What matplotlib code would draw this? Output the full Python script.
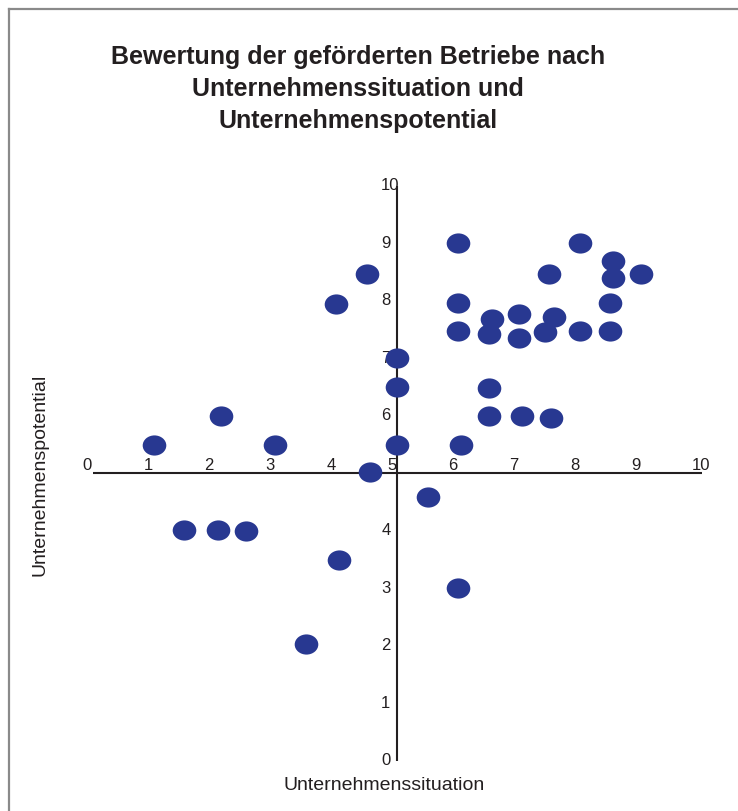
import numpy as np
import matplotlib
matplotlib.use('Agg')
from matplotlib import pyplot as plt
from matplotlib.path import Path
from matplotlib.transforms import Affine2D, offset_copy

plt.rcParams['font.family'] = ['Liberation Sans', 'DejaVu Sans']

# Bewertung je Betrieb (Unternehmenssituation, Unternehmenspotential)
situation = [1.0, 3.0, 2.1, 4.0, 4.5, 4.55, 5.0, 5.0, 5.0,
             6.0, 6.0, 6.0, 6.05, 5.5, 6.0,
             6.55, 6.5, 6.5, 6.5,
             7.0, 7.0, 7.05,
             7.42, 7.57, 7.5, 7.52,
             8.0, 8.0,
             8.55, 8.55, 8.5, 8.5,
             9.0,
             1.5, 2.05, 2.52, 4.05, 3.5]
potential = [5.5, 5.5, 6.0, 7.95, 8.47, 5.02, 7.0, 6.5, 5.5,
             9.0, 7.97, 7.48, 5.5, 4.58, 3.0,
             7.68, 7.43, 6.48, 6.0,
             7.77, 7.36, 6.0,
             7.45, 7.72, 8.47, 5.96,
             9.0, 7.47,
             8.7, 8.4, 7.97, 7.47,
             8.47,
             4.02, 4.02, 4.0, 3.5, 2.03]

ticks = list(range(0, 11))
titel = "Bewertung der geförderten Betriebe nach\nUnternehmenssituation und\nUnternehmenspotential"

fig = plt.figure(figsize=(7.38, 8.11), dpi=100)
W, H = 738, 811

# Rahmen links und oben
fig.add_artist(plt.Line2D([8.5 / W, 8.5 / W], [0, (H - 9) / H], color='#8a8a8a', lw=1.6))
fig.add_artist(plt.Line2D([8.5 / W, 1], [(H - 9) / H, (H - 9) / H], color='#8a8a8a', lw=1.6))

ax = fig.add_axes([92.7 / W, (H - 760.8) / H, 609 / W, 575 / H])
ax.set_xlim(0, 10)
ax.set_ylim(0, 10)
ax.axis('off')

ax.plot([0, 10], [5, 5], color='#231f20', lw=1.5, zorder=1)
ax.plot([5, 5], [0, 10], color='#231f20', lw=1.5, zorder=1)

# ovale Marker
ellipse = Path.unit_circle().transformed(Affine2D().scale(1.17, 1.0))
ax.plot(situation, potential, linestyle='none', marker=ellipse,
        markersize=17, color='#283891', markeredgewidth=0, zorder=3)

# Achsenbeschriftung
tr_x = offset_copy(ax.transData, fig=fig, x=-10, y=8, units='dots')
for t in ticks:
    ax.text(t, 5, str(t), transform=tr_x, ha='left', va='center',
            fontsize=12, color='#231f20', zorder=2)
tr_y = offset_copy(ax.transData, fig=fig, x=-16, y=0, units='dots')
for t in ticks:
    if t == 5:
        continue
    ax.text(5, t, str(t), transform=tr_y, ha='left', va='center',
            fontsize=12, color='#231f20', zorder=2)

fig.text(358 / W, 1 - 89 / H, titel, ha='center', va='center',
         fontsize=18, fontweight='bold', color='#231f20', linespacing=1.4)
fig.text(384 / W, 1 - 785 / H, 'Unternehmenssituation', ha='center', va='center',
         fontsize=14, color='#231f20')
fig.text(40 / W, 1 - 475 / H, 'Unternehmenspotential', ha='center', va='center',
         rotation=90, fontsize=14, color='#231f20')

plt.savefig('out.png', dpi=100)
